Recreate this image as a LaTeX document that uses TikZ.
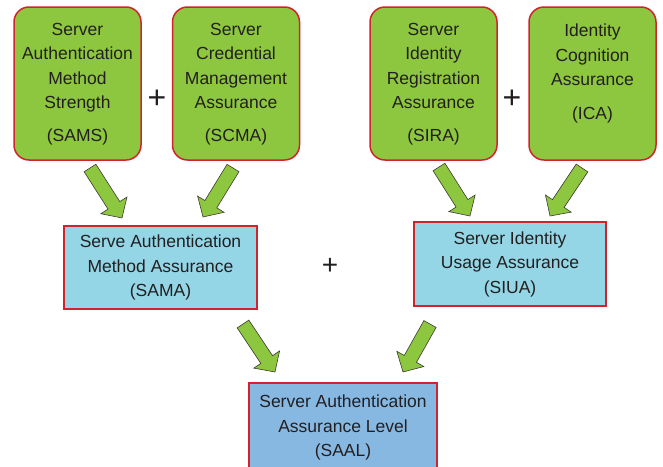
\documentclass[tikz,border=0pt]{standalone}
\usepackage{fontspec}
\setmainfont{Liberation Sans}
\usetikzlibrary{calc}
\definecolor{boxgreen}{RGB}{141,198,63}
\definecolor{boxcyan}{RGB}{148,214,230}
\definecolor{boxblue}{RGB}{135,184,226}
\definecolor{boxred}{RGB}{210,35,45}
\definecolor{txt}{RGB}{35,31,32}
\definecolor{arrline}{RGB}{60,60,50}
\tikzset{
  topbox/.style={draw=boxred, line width=1.5pt, fill=boxgreen, rounded corners=15pt,
    minimum width=127pt, minimum height=153pt, inner sep=0pt, align=center, text=txt,
    font=\fontsize{17.5}{24.5}\selectfont},
  midbox/.style={draw=boxred, line width=1.5pt, fill=boxcyan,
    minimum width=193pt, minimum height=83pt, inner sep=0pt, align=center, text=txt,
    font=\fontsize{17.5}{24.5}\selectfont},
  botbox/.style={midbox, fill=boxblue},
  plussign/.style={text=txt, inner sep=0pt, font=\fontsize{32}{32}\selectfont},
  blockarrow/.style={draw=arrline, line width=0.6pt, fill=boxgreen, line join=miter}
}
\newcommand\blockarr[2]{%
  \path let \p1=(#1), \p2=(#2) in \pgfextra{%
    \pgfmathsetmacro\baang{atan2(\y2-\y1,\x2-\x1)}%
    \pgfmathsetmacro\balen{veclen(\x2-\x1,\y2-\y1)}%
    \pgfmathsetmacro\babase{\balen-15}%
    \global\let\baang\baang\global\let\balen\balen\global\let\babase\babase};
  \begin{scope}[shift={(#1)}, rotate=\baang]
    \draw[blockarrow] (0pt,7pt) -- (\babase pt,7pt) -- (\babase pt,15.5pt) -- (\balen pt,0pt)
      -- (\babase pt,-15.5pt) -- (\babase pt,-7pt) -- (0pt,-7pt) -- cycle;
  \end{scope}}
\begin{document}
\begin{tikzpicture}[x=1pt,y=-1pt]
\useasboundingbox (0,0) rectangle (663,466);
\clip (0,0) rectangle (663,466);
% top boxes
\node[topbox] (sams) at (77.5,83.5) {\rule{0pt}{14pt}Server\\Authentication\\Method\\Strength\\[8.5pt](SAMS)};
\node[topbox] (scma) at (236,83.5) {\rule{0pt}{14pt}Server\\Credential\\Management\\Assurance\\[8.5pt](SCMA)};
\node[topbox] (sira) at (433.5,83.5) {\rule{0pt}{14pt}Server\\Identity\\Registration\\Assurance\\[8.5pt](SIRA)};
\node[topbox] (ica) at (592.5,83.5) {\rule{0pt}{14pt}Identity\\Cognition\\Assurance\\[9.5pt](ICA)\\\mbox{}};
\node[plussign] (p1) at (157,99) {+};
\node[plussign] (p2) at (512,99) {+};
% middle boxes
\node[midbox] (sama) at (160.5,267.5) {Serve Authentication\\Method Assurance\\(SAMA)};
\node[midbox, minimum width=192pt, minimum height=84pt] (siua) at (510,264) {Server Identity\\Usage Assurance\\(SIUA)};
\node[plussign, font=\fontsize{28}{28}\selectfont] (p3) at (330,266.5) {+};
% bottom box
\node[botbox, minimum width=188pt, minimum height=89pt] (saal) at (343,427.5) {Server Authentication\\Assurance Level\\(SAAL)};
% arrow end points
\coordinate (a1t) at (90,168);  \coordinate (a1h) at (122,218);
\coordinate (a2t) at (233,168); \coordinate (a2h) at (203,217);
\coordinate (a3t) at (439,167); \coordinate (a3h) at (470,216);
\coordinate (a4t) at (582,168); \coordinate (a4h) at (550,216);
\coordinate (a5t) at (243,324); \coordinate (a5h) at (275,372);
\coordinate (a6t) at (430,324); \coordinate (a6h) at (403,372);
\blockarr{a1t}{a1h}
\blockarr{a2t}{a2h}
\blockarr{a3t}{a3h}
\blockarr{a4t}{a4h}
\blockarr{a5t}{a5h}
\blockarr{a6t}{a6h}
\end{tikzpicture}
\end{document}
